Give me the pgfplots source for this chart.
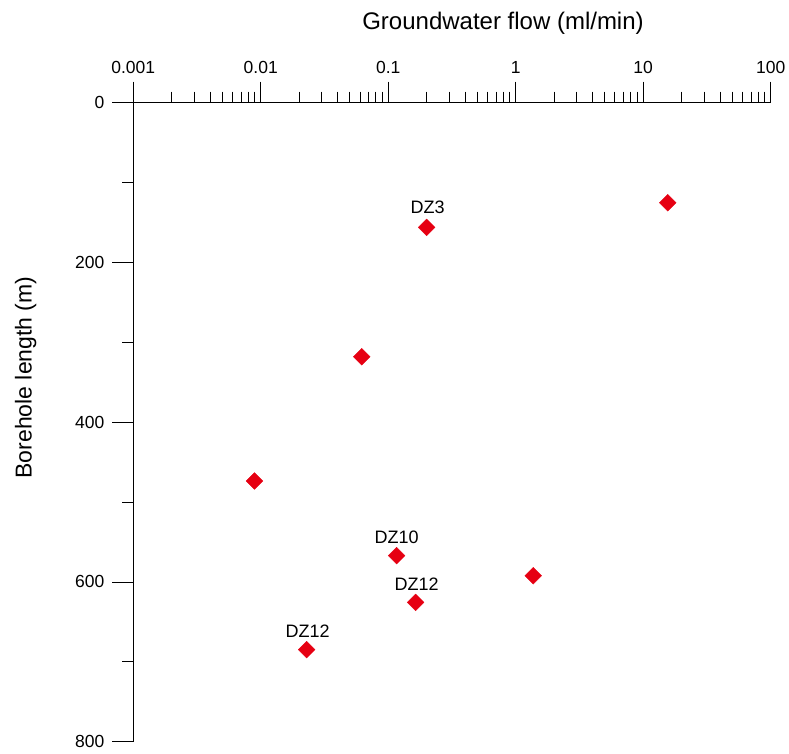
\documentclass[border=0pt]{standalone}
\usepackage{fontspec}
\setmainfont{Liberation Sans}
\usepackage{pgfplots}
\pgfplotsset{compat=1.18}
\definecolor{mred}{RGB}{230,0,18}
\begin{document}
\begin{tikzpicture}
\useasboundingbox (0,0) rectangle (789pt,-753pt);
\begin{axis}[
  at={(133.3pt,-102.7pt)}, anchor=north west,
  scale only axis, width=637.4pt, height=639pt,
  xmode=log, xmin=0.001, xmax=100,
  ymin=0, ymax=800, y dir=reverse,
  axis x line=top, axis y line=left,
  axis line style={-, black, line width=0.9pt},
  tick align=outside,
  major tick length=21pt, minor tick length=11pt,
  every tick/.style={black, line width=0.9pt},
  xtick={0.001,0.01,0.1,1,10,100},
  xticklabels={0.001,0.01,0.1,1,10,100},
  minor xtick={0.002,0.003,0.004,0.005,0.006,0.007,0.008,0.009,0.02,0.03,0.04,0.05,0.06,0.07,0.08,0.09,0.2,0.3,0.4,0.5,0.6,0.7,0.8,0.9,2,3,4,5,6,7,8,9,20,30,40,50,60,70,80,90},
  ytick={0,200,400,600,800},
  minor ytick={100,300,500,700},
  tick label style={font=\fontsize{17.5}{20}\selectfont},
  xticklabel style={yshift=5pt},
  yticklabel style={xshift=-4.5pt},
  /pgf/number format/assume math mode=true,
  clip=false,
]
\addplot[only marks, mark=square*, mark size=5.9pt, mark options={rotate=45, fill=mred, draw=none}, color=mred] coordinates {
(15.58,125.2)
(0.200,156.1)
(0.062,318)
(0.00894,473.6)
(0.1162,567.1)
(1.37,592.2)
(0.1639,625.6)
(0.0229,684.8)
};
\node[font=\fontsize{18}{20}\selectfont] at (axis cs:0.200,156.1) [yshift=20.5pt, xshift=1pt] {DZ3};
\node[font=\fontsize{18}{20}\selectfont] at (axis cs:0.1162,567.1) [yshift=18.5pt] {DZ10};
\node[font=\fontsize{18}{20}\selectfont] at (axis cs:0.1639,625.6) [yshift=18.5pt, xshift=1pt] {DZ12};
\node[font=\fontsize{18}{20}\selectfont] at (axis cs:0.0229,684.8) [yshift=18.5pt, xshift=1pt] {DZ12};
\end{axis}
\node[anchor=base, font=\fontsize{24}{26}\selectfont] at (503pt,-29.3pt) {Groundwater flow (ml/min)};
\node[anchor=base, rotate=90, font=\fontsize{23}{26}\selectfont] at (31.5pt,-377.5pt) {Borehole length (m)};
\end{tikzpicture}
\end{document}
